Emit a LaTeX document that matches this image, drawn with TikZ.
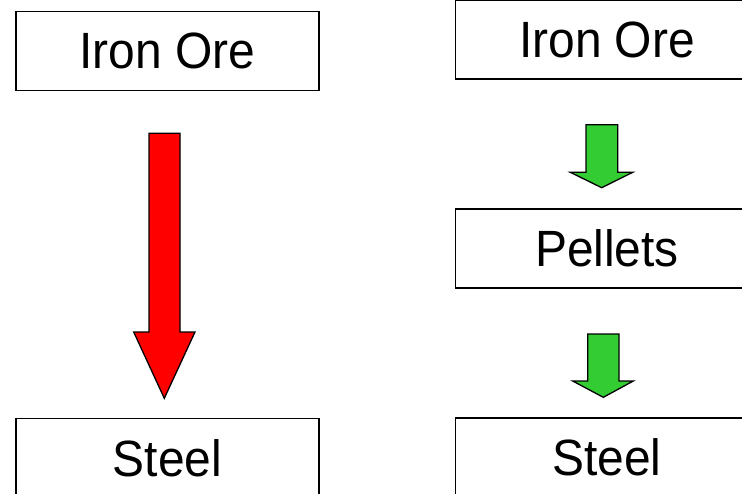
\documentclass[tikz,border=0pt]{standalone}
\usepackage{fontspec}
\setmainfont[FakeStretch=0.94]{Liberation Sans}
\definecolor{arrowred}{HTML}{FF0000}
\definecolor{arrowgreen}{HTML}{33CC33}
\tikzset{
  stagebox/.style={draw=black, line width=1.5pt, fill=white, minimum width=303pt,
    minimum height=79pt, inner sep=0pt, font=\fontsize{51}{60}\selectfont},
  blockarrow/.style={draw=black, line width=1.3pt, line join=miter},
}
\begin{document}
\begin{tikzpicture}[x=1pt, y=-1pt]
  \useasboundingbox (0,0) rectangle (742,493);

  % direct route
  \node[stagebox] (oreA)   at (167.5, 51)  {Iron Ore};
  \node[stagebox] (steelA) at (167.5, 458) {Steel};

  % route through pellets
  \node[stagebox] (oreB)    at (607, 39.6)  {Iron Ore};
  \node[stagebox] (pellets) at (607, 248.5) {Pellets};
  \node[stagebox] (steelB)  at (607, 457.4) {Steel};

  % block arrows
  \draw[blockarrow, fill=arrowred]
    (149,133.3) -- (180,133.3) -- (180,332) -- (195,332) -- (164.3,398.3)
    -- (133.7,332) -- (149,332) -- cycle;
  \draw[blockarrow, fill=arrowgreen]
    (586,124.7) -- (617.7,124.7) -- (617.7,172.3) -- (632.7,172.3) -- (601.7,187.7)
    -- (570.3,172.3) -- (586,172.3) -- cycle;
  \draw[blockarrow, fill=arrowgreen]
    (587.7,334) -- (619,334) -- (619,381) -- (633.3,381) -- (603.3,397.3)
    -- (572.7,381) -- (587.7,381) -- cycle;
\end{tikzpicture}
\end{document}
